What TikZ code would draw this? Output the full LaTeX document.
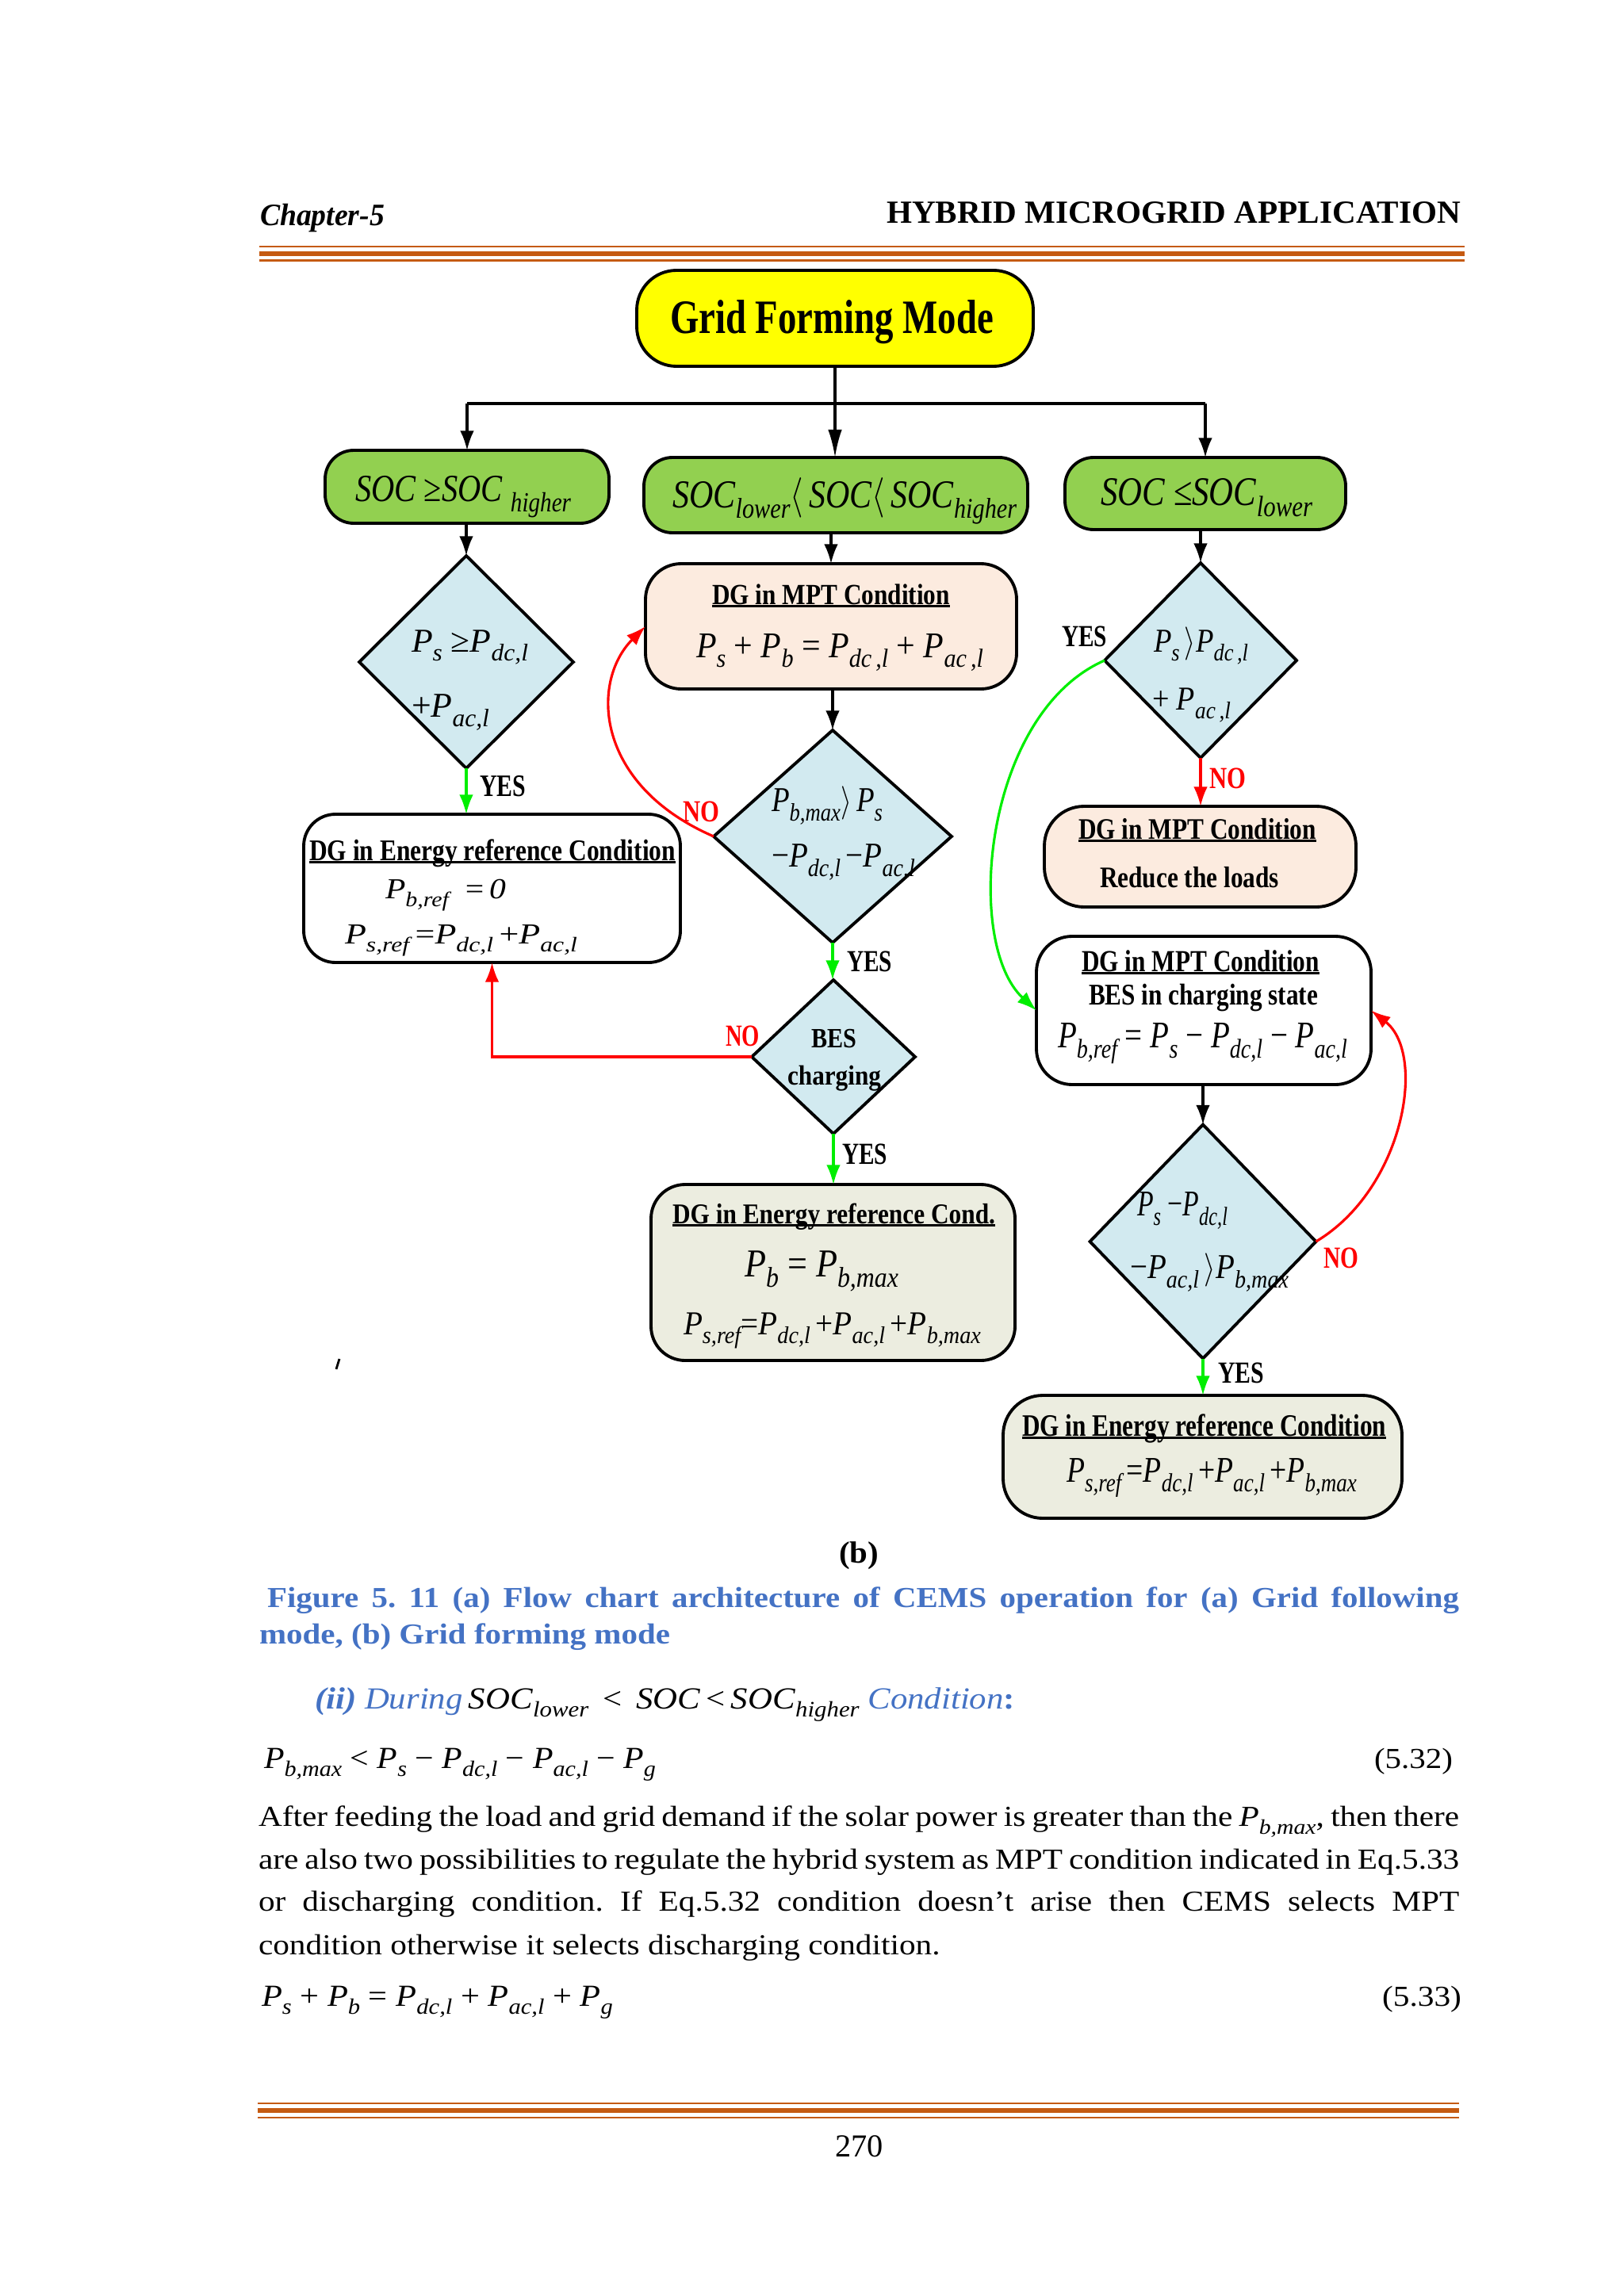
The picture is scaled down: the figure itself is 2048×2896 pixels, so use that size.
\documentclass[tikz,border=0pt]{standalone}
\usepackage{fontspec}
\setmainfont{Liberation Serif}
\usepackage{graphicx}
\usetikzlibrary{arrows.meta,shapes.geometric,calc}
\definecolor{hdr}{HTML}{C55A11}
\definecolor{gfill}{HTML}{92D050}
\definecolor{yfill}{HTML}{FFFF00}
\definecolor{pfill}{HTML}{FCEBDF}
\definecolor{dfill}{HTML}{D2EAF0}
\definecolor{ofill}{HTML}{ECEDE0}
\definecolor{gline}{HTML}{00EE00}
\definecolor{rline}{HTML}{FF0000}
\definecolor{capblue}{HTML}{4472C4}
\newdimen\pxu \pxu=0.1mm
\newsavebox\fitbx
\newsavebox\ulbx
\newcommand\fitw[2]{\sbox\fitbx{#2}\resizebox{#1\pxu}{\ht\fitbx}{\usebox\fitbx}}
\newcommand\fz[1]{\fontsize{#1pt}{#1pt}\selectfont}
\newcommand\ulx[1]{\sbox\ulbx{#1}\rlap{\usebox\ulbx}\rule[-1.1pt]{\wd\ulbx}{0.7pt}}
\makeatletter
\newcommand\sbs[1]{\raisebox{-0.28em}{\fontsize{0.72\dimexpr\f@size pt\relax}{0pt}\selectfont\itshape #1}}
\makeatother
\newcommand\PP[1]{\textit{P}\sbs{#1}}
\newcommand\SOC{\textit{SOC}}
\newcommand\bodyline[1]{\scalebox{1.13}[1]{\makebox[1340\pxu][s]{#1}}}
\frenchspacing
\begin{document}
\begin{tikzpicture}[x=0.1mm,y=-0.1mm,
  box/.style={draw=black,line width=1.1pt,inner sep=0pt,outer sep=0pt},
  dia/.style={diamond,draw=black,line width=1.1pt,fill=dfill,inner sep=0pt,outer sep=0pt},
  arr/.style={line width=0.9pt,-{Latex[length=7pt,width=5pt]}},
  t/.style={anchor=base west,inner sep=0pt,outer sep=0pt},
  te/.style={anchor=base east,inner sep=0pt,outer sep=0pt},
  hline/.style={draw=hdr}]
\useasboundingbox (0,0) rectangle (2048,2896);
% header rules
\draw[hline,line width=0.8pt] (327,311) -- (1847,311);
\draw[hline,line width=1.7pt] (327,320) -- (1847,320);
\draw[hline,line width=0.8pt] (327,328.5) -- (1847,328.5);
\draw[hline,line width=0.7pt] (325,2653) -- (1840,2653);
\draw[hline,line width=1.7pt] (325,2662) -- (1840,2662);
\draw[hline,line width=0.7pt] (325,2671) -- (1840,2671);
\node[t] (chap) at (328,285) {\fitw{157}{\fz{11.2}\bfseries\itshape Chapter-5}};
\node[t] (hyb) at (1118,282) {\fitw{724}{\fz{11.6}\bfseries HYBRID MICROGRID APPLICATION}};
% boxes
\node[box,fill=yfill,rounded corners=5mm,minimum width=50mm,minimum height=12.1mm] (top) at (1053,401.5) {};
\node[box,fill=gfill,rounded corners=3.6mm,minimum width=35.8mm,minimum height=9.2mm] (g1) at (589,614) {};
\node[box,fill=gfill,rounded corners=3.6mm,minimum width=48.4mm,minimum height=9.5mm] (g2) at (1054,624.5) {};
\node[box,fill=gfill,rounded corners=3.6mm,minimum width=35.4mm,minimum height=9.1mm] (g3) at (1520,622.5) {};
\node[dia,minimum width=27mm,minimum height=26.8mm] (d1) at (588,835) {};
\node[box,fill=white,rounded corners=4mm,minimum width=47.5mm,minimum height=18.7mm] (e1) at (620.5,1120.5) {};
\node[box,fill=pfill,rounded corners=4.5mm,minimum width=46.8mm,minimum height=15.8mm] (m1) at (1048,790) {};
\node[dia,minimum width=30mm,minimum height=26.8mm] (d2) at (1050,1055) {};
\node[dia,minimum width=20.6mm,minimum height=19.4mm] (bes) at (1051,1333) {};
\node[box,fill=ofill,rounded corners=4.3mm,minimum width=45.9mm,minimum height=22.2mm] (e2) at (1050.5,1605) {};
\node[dia,minimum width=24.2mm,minimum height=24.6mm] (d3) at (1514,833) {};
\node[box,fill=pfill,rounded corners=5mm,minimum width=39.3mm,minimum height=12.7mm] (r1) at (1513.5,1080.5) {};
\node[box,fill=white,rounded corners=4.5mm,minimum width=42.2mm,minimum height=18.7mm] (m2) at (1518,1274.5) {};
\node[dia,minimum width=28.5mm,minimum height=29.5mm] (d4) at (1517,1566) {};
\node[box,fill=ofill,rounded corners=5mm,minimum width=50.3mm,minimum height=15.5mm] (e3) at (1516.5,1837.5) {};
% connectors
\coordinate (br) at (1053,509);
\draw[line width=1.3pt] (br -| g1.north) -- (br -| g3.north);
\draw[line width=0.9pt,-{Latex[length=10pt,width=5pt]}] (top.south) -- (top.south |- g2.north);
\draw[arr] (br -| g1.north) -- (g1.north);
\draw[arr] (br -| g3.north) -- (g3.north);
\draw[arr] (d1.north |- g1.south) -- (d1.north);
\draw[arr,gline] (d1.south) -- (d1.south |- e1.north);
\draw[arr] (m1.north |- g2.south) -- (m1.north);
\draw[arr] (d2.north |- m1.south) -- (d2.north);
\draw[arr,rline] (d2.west) .. controls (750,990) and (744,860) .. (m1.west);
\draw[arr,gline] (d2.south) -- (d2.south |- bes.north);
\draw[arr,gline] (bes.south) -- (bes.south |- e2.north);
\draw[arr,rline] (bes.west) -| (e1.south);
\draw[arr] (d3.north |- g3.south) -- (d3.north);
\draw[arr,rline] (d3.south) -- (d3.south |- r1.north);
\draw[arr,gline] (d3.west) .. controls (1240,900) and (1215,1190) .. (m2.west);
\draw[arr] (d4.north |- m2.south) -- (d4.north);
\draw[arr,rline] (d4.east) .. controls (1770,1500) and (1800,1330) .. (m2.east);
\draw[arr,gline] (d4.south) -- (d4.south |- e3.north);
% texts in boxes
\node[t] (titlet) at (845,420) {\fitw{408}{\fz{17.2}\bfseries Grid Forming Mode}};
\node[t] (g1t) at (448,632) {\fitw{272}{\fz{13.8}\SOC\ ≥\SOC\ \sbs{higher}}};
\node[t] (g2t) at (848,640) {\fitw{434}{\fz{14.2}\SOC\sbs{lower}$\langle$\,\SOC$\langle$\,\SOC\sbs{higher}}};
\node[t] (g3t) at (1388,637) {\fitw{267}{\fz{14.6}\SOC\ ≤\SOC\sbs{lower}}};
\node[t] (d1a) at (519,822) {\fitw{147}{\fz{12}\PP{s} ≥\PP{dc,l}}};
\node[t] (d1b) at (519,904) {\fitw{98}{\fz{12.5}+\PP{ac,l}}};
\node[t] (e1a) at (390,1085) {\fitw{462}{\fz{10.8}\bfseries\ulx{DG in Energy reference Condition}}};
\node[t] (e1b) at (486,1133) {\fitw{152}{\fz{10.4}\PP{b,ref}\ \ =\,\textit{0}}};
\node[t] (e1c) at (435,1190) {\fitw{293}{\fz{10.4}\PP{s,ref}\,=\PP{dc,l}\,+\PP{ac,l}}};
\node[t] (m1a) at (898,762) {\fitw{300}{\fz{10.5}\bfseries\ulx{DG in MPT Condition}}};
\node[t] (m1b) at (878,829) {\fitw{362}{\fz{13}\PP{s} + \PP{b} = \PP{dc\,,l} + \PP{ac\,,l}}};
\node[t] (d2a) at (973,1023) {\fitw{140}{\fz{12.5}\PP{b,max}$\rangle$\,\PP{s}}};
\node[t] (d2b) at (973,1093) {\fitw{181}{\fz{12.5}−\PP{dc,l}\,−\PP{ac,l}}};
\node[t] (besa) at (1023,1321) {\fitw{57}{\fz{10}\bfseries BES}};
\node[t] (besb) at (993,1368) {\fitw{118}{\fz{10}\bfseries charging}};
\node[t] (e2a) at (848,1543) {\fitw{407}{\fz{10.3}\bfseries\ulx{DG in Energy reference Cond.}}};
\node[t] (e2b) at (939,1610) {\fitw{194}{\fz{14.2}\PP{b} = \PP{b,max}}};
\node[t] (e2c) at (862,1683) {\fitw{375}{\fz{12}\PP{s,ref}=\PP{dc,l}\,+\PP{ac,l}\,+\PP{b,max}}};
\node[t] (d3a) at (1455,822) {\fitw{119}{\fz{12}\PP{s}\,$\rangle$\PP{dc\,,l}}};
\node[t] (d3b) at (1453,895) {\fitw{99}{\fz{12}+ \PP{ac\,,l}}};
\node[t] (r1a) at (1360,1058) {\fitw{300}{\fz{10.7}\bfseries\ulx{DG in MPT Condition}}};
\node[t] (r1b) at (1387,1119) {\fitw{226}{\fz{10.7}\bfseries Reduce the loads}};
\node[t] (m2a) at (1364,1225) {\fitw{300}{\fz{11}\bfseries\ulx{DG in MPT Condition}}};
\node[t] (m2b) at (1373,1267) {\fitw{289}{\fz{10.8}\bfseries BES in charging state}};
\node[t] (m2c) at (1334,1321) {\fitw{365}{\fz{13.5}\PP{b,ref} = \PP{s} − \PP{dc,l} − \PP{ac,l}}};
\node[t] (d4a) at (1434,1533) {\fitw{114}{\fz{13}\PP{s} −\PP{dc,l}}};
\node[t] (d4b) at (1425,1612) {\fitw{200}{\fz{12.5}−\PP{ac,l}\,$\rangle$\PP{b,max}}};
\node[t] (e3a) at (1289,1811) {\fitw{459}{\fz{11.2}\bfseries\ulx{DG in Energy reference Condition}}};
\node[t] (e3b) at (1345,1869) {\fitw{366}{\fz{13}\PP{s,ref}\,=\PP{dc,l}\,+\PP{ac,l}\,+\PP{b,max}}};
% YES / NO labels
\node[t] (yes1) at (605,1004) {\fitw{58}{\fz{11.2}\bfseries YES}};
\node[t] (no1) at (861,1036) {\fitw{46}{\fz{11}\bfseries\color{rline}NO}};
\node[t] (yes2) at (1068,1225) {\fitw{57}{\fz{11}\bfseries YES}};
\node[t] (no2) at (915,1319) {\fitw{43}{\fz{11}\bfseries\color{rline}NO}};
\node[t] (yes3) at (1062,1468) {\fitw{57}{\fz{11}\bfseries YES}};
\node[t] (yes4) at (1339,815) {\fitw{57}{\fz{11}\bfseries YES}};
\node[t] (no3) at (1525,994) {\fitw{46}{\fz{11}\bfseries\color{rline}NO}};
\node[t] (no4) at (1669,1599) {\fitw{44}{\fz{11}\bfseries\color{rline}NO}};
\node[t] (yes5) at (1536,1744) {\fitw{58}{\fz{11}\bfseries YES}};
\draw[line width=0.8pt] (428,1714) -- (424,1727);
% caption and body text
\node[t] (bl) at (1058,1971) {\fitw{50}{\fz{11}\bfseries (b)}};
\node[t] (cap1) at (337,2027) {\fz{10.4}\bfseries\color{capblue}\scalebox{1.12}[1]{\makebox[1342\pxu][s]{Figure 5. 11 (a) Flow chart architecture of CEMS operation for (a) Grid following}}};
\node[t] (cap2) at (327,2073) {\fitw{518}{\fz{10.4}\bfseries\color{capblue}mode, (b) Grid forming mode}};
\node[t] (sub) at (397,2155) {\fitw{883}{\fz{11}{\color{capblue}\textbf{\textit{(ii)}} \textit{During}}\,\SOC\sbs{lower} \,<\, \SOC\,<\,\SOC\sbs{higher} {\color{capblue}\textit{Condition}\textbf{:}}}};
\node[t] (eq1) at (333,2230) {\fitw{494}{\fz{11}\PP{b,max} < \PP{s} − \PP{dc,l} − \PP{ac,l} − \PP{g}}};
\node[te] (eq1n) at (1832,2230) {\fitw{99}{\fz{10.4}(5.32)}};
\node[t] (p1) at (326,2303) {\fz{10.4}\bodyline{After feeding the load and grid demand if the solar power is greater than the \PP{b,max}, then there}};
\node[t] (p2) at (326,2357) {\fz{10.4}\bodyline{are also two possibilities to regulate the hybrid system as MPT condition indicated in Eq.5.33}};
\node[t] (p3) at (326,2410) {\fz{10.4}\bodyline{or discharging condition. If Eq.5.32 condition doesn’t arise then CEMS selects MPT}};
\node[t] (p4) at (326,2465) {\fz{10.4}\scalebox{1.13}[1]{condition otherwise it selects discharging condition.}};
\node[t] (eq2) at (330,2530) {\fitw{443}{\fz{11}\PP{s} + \PP{b} = \PP{dc,l} + \PP{ac,l} + \PP{g}}};
\node[te] (eq2n) at (1843,2530) {\fitw{100}{\fz{10.4}(5.33)}};
\node[t] (pg) at (1053,2720) {\fz{11.5}270};
\end{tikzpicture}
\end{document}
